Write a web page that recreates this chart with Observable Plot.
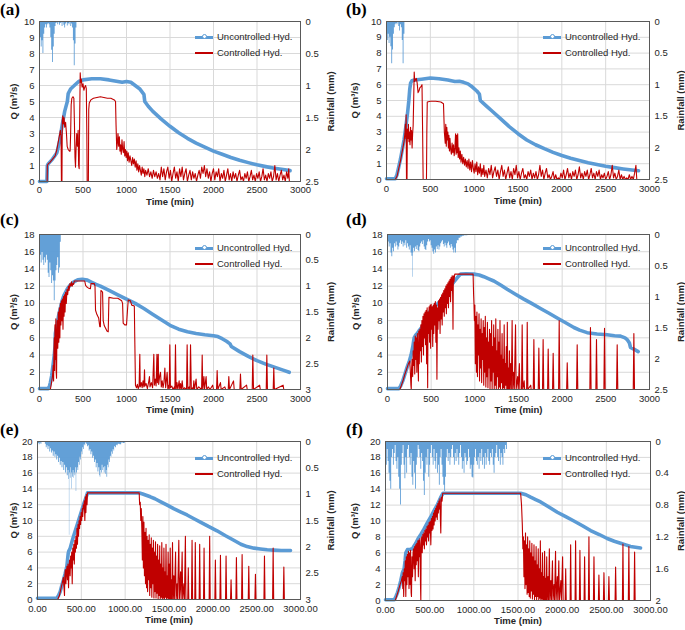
<!DOCTYPE html>
<html><head><meta charset="utf-8">
<script src="https://cdn.jsdelivr.net/npm/d3@7"></script>
<script src="https://cdn.jsdelivr.net/npm/@observablehq/plot@0.6"></script>
<style>
body{margin:0;background:#fff;}
#wrap{position:relative;width:685px;height:630px;overflow:hidden;font-family:"Liberation Sans",sans-serif;color:#262626;}
.panel{position:absolute;}
.tag{position:absolute;font-family:"Liberation Serif",serif;font-weight:bold;font-size:17px;line-height:19px;color:#000;}
.legend{position:absolute;font-size:9.5px;line-height:16px;white-space:nowrap;color:#262626;}
.legend .row{display:flex;align-items:center;height:16px;}
.sw{position:relative;display:inline-block;width:18px;margin-right:4px;}
.sw.blue{height:3px;background:#5B9BD5;}
.sw.blue::after{content:"";position:absolute;left:7px;top:-1.5px;width:3px;height:3px;border:1px solid #5B9BD5;border-radius:50%;background:#fff;}
.sw.red{height:1.5px;background:#C00000;}
</style></head><body><div id="wrap"></div>
<script>
// ---------- shared ticks ----------
const xTicks = [0, 500, 1000, 1500, 2000, 2500, 3000];
const qTicks10 = [0,1,2,3,4,5,6,7,8,9,10];
const qTicks18 = [0,2,4,6,8,10,12,14,16,18];
const qTicks20 = [0,2,4,6,8,10,12,14,16,18,20];
const rTicks25 = [0, 0.5, 1, 1.5, 2, 2.5];
const rTicks3 = [0, 0.5, 1, 1.5, 2, 2.5, 3];
const rTicks2 = [0, 0.4, 0.8, 1.2, 1.6, 2];

// ---------- panel (a) ----------
const uncA = [[0,0],[85,0],[90,1.0],[100,1.1],[150,1.4],[200,1.8],[230,2.5],[260,3.5],[290,4.4],[320,5.0],[330,5.5],[360,5.8],[400,6.0],[450,6.25],[500,6.35],[600,6.42],[700,6.42],[800,6.35],[900,6.25],[950,6.2],[1000,6.25],[1050,6.2],[1100,6.0],[1150,5.8],[1200,5.45],[1210,5.0],[1250,4.7],[1300,4.4],[1400,3.9],[1500,3.45],[1600,3.05],[1700,2.7],[1800,2.4],[1900,2.15],[2000,1.9],[2100,1.7],[2200,1.5],[2300,1.33],[2400,1.18],[2500,1.04],[2600,0.93],[2700,0.83],[2800,0.75],[2880,0.68]];
const ctrlA = [[0,0],[88,0],[90,1.0],[100,1.1],[120,1.2],[150,1.4],[180,1.6],[200,2.0],[220,2.6],[240,3.2],[248,2.8],[252,0],[258,0],[262,3.8],[268,4.1],[275,3.6],[282,4.0],[290,3.4],[300,3.7],[310,3.0],[318,2.2],[330,2.0],[345,1.9],[352,1.9],[358,3.0],[364,4.8],[372,5.2],[385,5.3],[395,5.2],[402,3.5],[408,1.5],[414,0.9],[420,2.0],[428,3.0],[436,2.2],[444,3.2],[450,1.0],[456,0.8],[462,4.0],[468,6.8],[474,6.2],[480,6.4],[490,5.9],[500,6.1],[510,5.7],[520,5.9],[530,6.0],[538,5.8],[544,3.0],[548,0],[562,0],[566,4.5],[572,4.9],[590,5.1],[620,5.2],[660,5.25],[700,5.3],[740,5.25],[780,5.2],[820,5.2],[860,5.1],[874,5.0],[880,3.5],[888,2.0],[895,2.4],[902,3.0],[910,2.2],[918,2.8],[925,1.9],[932,2.3],[940,1.7],[948,2.6],[956,2.0],[964,1.8],[972,2.5],[980,1.6],[988,2.0],[996,1.5],[1004,1.9],[1012,1.3],[1020,1.8],[1030,1.2],[1040,1.6],[1050,1.3],[1060,1.0],[1070,1.5],[1080,1.1],[1090,1.4],[1100,0.9],[1110,1.3],[1120,0.7],[1130,1.1],[1140,0.6],[1150,1.0],[1160,0.7],[1170,0.4],[1180,0.9],[1190,0.5],[1200,0.8],[1210,0.3],[1220,0.7],[1235,0.4],[1250,0.8],[1265,0.3],[1280,0.6],[1295,0.2],[1310,0.7],[1325,0.3],[1340,0.6],[1355,0.2],[1370,0.5],[1385,0.1],[1400,0.9],[1415,0.3],[1430,0.8],[1445,0.1],[1460,0.6],[1475,0.9],[1490,0.2],[1505,0.7],[1520,0],[1535,0.5],[1550,0.9],[1565,0.2],[1580,0.6],[1595,0],[1610,0.8],[1625,0.3],[1640,0.9],[1655,0.1],[1670,0.5],[1685,0.8],[1700,0],[1715,0.4],[1730,0.7],[1745,0.1],[1760,0.6],[1775,0.2],[1790,0.5],[1805,0],[1820,0.4],[1835,0.7],[1850,0.2],[1865,0.9],[1880,0.5],[1895,1.0],[1910,0.3],[1925,0.8],[1940,0.2],[1955,0.6],[1970,0],[1985,0.5],[2000,0.8],[2015,0.1],[2030,0.6],[2045,0.3],[2060,0.8],[2075,0],[2090,0.5],[2105,0.2],[2120,0.7],[2135,0],[2150,0.4],[2165,0.8],[2180,0.1],[2195,0.5],[2210,0],[2225,0.6],[2240,0.2],[2255,0.5],[2270,0],[2285,0.4],[2300,0.7],[2315,0.1],[2330,0.3],[2345,0],[2360,0.5],[2375,0.2],[2390,0.6],[2405,0],[2420,0.3],[2435,0.7],[2450,0.1],[2465,0.4],[2480,0],[2495,0.5],[2510,0.2],[2525,0.6],[2540,0],[2555,0.3],[2570,0.8],[2585,0.1],[2600,0.4],[2615,0],[2630,0.5],[2645,0.2],[2660,0.6],[2675,0],[2690,0.3],[2705,1.0],[2720,0.1],[2735,0.5],[2750,0],[2765,0.4],[2780,0.7],[2795,0.1],[2810,0.4],[2825,0],[2840,0.6],[2855,0.2],[2865,0.8],[2872,0]];
const rainA = [[0,0.15],[10,0.25],[20,0.4],[30,0.3],[40,0.5],[50,0.2],[60,0.1],[70,0.05],[80,0.1],[90,0.05],[100,0.03],[110,0.05],[120,0.1],[130,0.25],[140,0.45],[150,0.64],[160,0.4],[170,0.2],[180,0.08],[190,0.03],[200,0.02],[210,0.05],[220,0.02],[230,0.06],[240,0.03],[250,0.02],[260,0.08],[270,0.02],[280,0.06],[290,0.1],[300,0.04],[310,0.02],[320,0.07],[330,0.03],[340,0.05],[350,0.02],[360,0.08],[370,0.04],[380,0.1],[390,0.3],[400,0.69],[410,0.35],[420,0.1],[430,0]];

// ---------- panel (b) ----------
const uncB = [[0,0.05],[100,0.05],[120,0.3],[140,0.8],[160,1.3],[180,1.9],[200,2.5],[220,3.3],[240,4.2],[255,5.0],[265,5.7],[275,6.1],[290,6.25],[320,6.3],[400,6.35],[500,6.42],[600,6.38],[700,6.3],[780,6.2],[830,6.22],[880,6.15],[930,6.05],[980,5.85],[1030,5.6],[1060,5.4],[1070,5.0],[1100,4.85],[1150,4.6],[1200,4.35],[1300,3.85],[1400,3.35],[1500,2.9],[1600,2.5],[1700,2.2],[1800,1.95],[1900,1.72],[2000,1.52],[2100,1.35],[2200,1.2],[2300,1.06],[2400,0.95],[2500,0.84],[2600,0.75],[2700,0.67],[2800,0.6],[2875,0.55]];
const ctrlB = [[0,0],[100,0],[120,0.2],[140,0.7],[160,1.2],[180,1.8],[200,2.4],[210,2.9],[215,3.5],[220,2.6],[224,4.1],[228,0],[234,0],[238,3.2],[244,2.6],[250,3.5],[256,2.4],[262,3.0],[268,2.2],[274,3.3],[280,2.5],[286,3.1],[292,2.0],[298,2.9],[304,3.4],[310,5.0],[316,6.8],[322,6.2],[330,6.3],[340,6.4],[350,6.1],[360,5.5],[370,5.6],[380,5.8],[395,5.9],[405,6.0],[412,3.0],[418,0],[456,0],[460,3.0],[465,4.9],[500,4.95],[560,4.95],[620,4.9],[650,4.8],[660,3.0],[670,2.3],[676,3.5],[682,2.1],[688,3.3],[694,2.5],[700,3.0],[706,2.0],[712,2.8],[718,1.8],[724,2.6],[732,1.9],[740,1.6],[748,2.3],[756,1.7],[764,2.2],[772,1.5],[780,2.0],[788,2.9],[794,1.6],[800,2.8],[806,1.7],[812,2.9],[818,1.4],[826,2.0],[834,1.3],[842,1.8],[850,1.1],[860,1.6],[870,1.0],[880,1.4],[890,0.9],[900,1.3],[910,0.8],[920,1.2],[930,0.7],[940,1.3],[950,0.6],[960,1.1],[970,0.5],[980,1.2],[990,0.7],[1000,0.4],[1010,1.0],[1020,0.5],[1030,1.1],[1040,0.3],[1050,0.8],[1060,0.4],[1070,1.0],[1080,0.2],[1090,0.7],[1100,0.3],[1110,0.9],[1120,0.2],[1135,0.6],[1150,0.1],[1165,0.7],[1180,0.3],[1195,0.9],[1210,0.1],[1225,0.5],[1240,0.8],[1255,0.2],[1270,0.6],[1285,0],[1300,0.5],[1315,0.9],[1330,0.2],[1345,0.6],[1360,0],[1375,0.4],[1390,0.8],[1405,0.1],[1420,0.5],[1435,0],[1450,0.7],[1465,0.3],[1480,0.9],[1495,0.1],[1510,0.5],[1525,0],[1540,0.4],[1555,0.7],[1570,0.1],[1585,0.3],[1600,0],[1615,0.5],[1630,0.2],[1645,0.6],[1660,0],[1675,0.4],[1690,0.1],[1705,0.5],[1720,0],[1735,0.3],[1750,0.9],[1765,0.2],[1780,0.6],[1795,0],[1810,0.4],[1825,0.7],[1840,0.1],[1855,0.3],[1870,0],[1885,0.2],[1900,0.5],[1915,0],[1930,0.3],[1945,0],[1960,0.1],[1975,0],[1990,0.4],[2005,0.1],[2020,0.6],[2035,0],[2050,0.3],[2065,0.7],[2080,0.1],[2095,0.4],[2110,0],[2125,0.5],[2140,0.2],[2155,0.6],[2170,0],[2185,0.3],[2200,0.8],[2215,0.1],[2230,0.4],[2245,0],[2260,0.5],[2275,0.2],[2290,0.6],[2305,0],[2320,0.3],[2335,0.7],[2350,0.1],[2365,0.4],[2380,0],[2395,0.5],[2410,0.2],[2425,0.6],[2440,0],[2455,0.3],[2470,0.1],[2485,0.4],[2500,0],[2515,0.2],[2530,0.5],[2545,0],[2560,0.3],[2575,0.9],[2590,0.1],[2605,0.4],[2620,0],[2635,0.2],[2650,0.6],[2665,0],[2680,0.3],[2695,0],[2710,0.2],[2725,0],[2740,0.1],[2755,0],[2770,0.3],[2785,0],[2800,0.2],[2815,0],[2830,0.4],[2845,0.9],[2855,0],[2870,0]];
const rainB = [[0,0.1],[10,0.3],[20,0.2],[30,0.35],[40,0.25],[50,0.4],[60,0.67],[70,0.45],[80,0.2],[90,0.1],[100,0.05],[110,0.03],[120,0.05],[130,0.02],[140,0.08],[150,0.15],[160,0.05],[170,0.1],[180,0.3],[190,0.67],[200,0.2],[210,0]];

// ---------- panel (c) ----------
const uncC = [[0,0.1],[100,0.1],[115,0.4],[125,0.8],[140,1.6],[155,2.8],[170,4.0],[178,5.0],[182,6.5],[190,7.0],[203,7.6],[220,8.6],[241,9.5],[260,10.3],[280,10.9],[300,11.3],[320,11.7],[350,12.1],[395,12.5],[440,12.75],[490,12.8],[550,12.7],[600,12.45],[650,12.2],[700,12.0],[800,11.5],[900,11.0],[1000,10.5],[1100,10.0],[1200,9.4],[1300,8.75],[1400,8.1],[1500,7.45],[1600,7.0],[1700,6.7],[1800,6.5],[1900,6.35],[2000,6.25],[2050,6.15],[2100,5.9],[2150,5.6],[2190,5.3],[2205,5.0],[2300,4.4],[2400,3.85],[2500,3.35],[2600,2.95],[2700,2.6],[2800,2.25],[2870,2.0]];
const ctrlC = [[0,0],[125,0],[140,0.9],[150,1.6],[158,2.8],[162,1.0],[166,4.5],[170,6.0],[174,2.2],[178,7.5],[184,3.5],[188,8.2],[192,2.0],[196,1.3],[200,6.5],[205,8.0],[210,4.8],[216,9.0],[222,5.5],[228,9.5],[234,6.0],[240,10.0],[246,7.5],[252,10.3],[258,8.0],[264,10.5],[270,7.0],[276,10.8],[282,8.5],[288,11.0],[294,9.0],[300,11.3],[308,10.0],[316,11.6],[324,11.0],[332,12.0],[340,11.5],[350,12.3],[360,12.0],[368,12.5],[376,12.0],[384,12.3],[392,12.2],[400,12.6],[460,12.6],[520,12.6],[530,12.1],[545,11.9],[560,11.8],[585,11.7],[592,12.3],[630,12.3],[638,12.0],[644,9.2],[660,8.7],[680,8.3],[693,7.3],[700,7.3],[706,11.5],[725,11.3],[732,8.0],[745,7.4],[760,7.1],[775,6.8],[790,6.7],[798,10.7],[850,10.6],[900,10.6],[945,10.3],[955,10.0],[962,7.7],[980,7.5],[1000,7.5],[1010,9.0],[1020,10.4],[1045,10.3],[1060,9.8],[1090,9.7],[1095,6.0],[1103,0.5],[1115,0.2],[1125,0.6],[1135,0.1],[1145,0.4],[1153,4.1],[1158,0.3],[1170,0.8],[1180,0.2],[1190,1.0],[1200,0.3],[1207,2.3],[1212,0.4],[1225,0.7],[1240,0.1],[1255,0.9],[1264,1.5],[1270,0.3],[1285,0.8],[1300,0.2],[1314,4.1],[1320,0.5],[1330,1.2],[1340,0.4],[1350,4.1],[1355,0.8],[1365,4.1],[1370,0.6],[1380,1.5],[1391,2.0],[1400,0.3],[1410,1.0],[1420,0.2],[1430,0.8],[1441,2.5],[1450,0.2],[1458,1.0],[1467,2.0],[1475,0.1],[1485,0.5],[1491,0],[1498,5.2],[1505,0.2],[1520,0.4],[1535,0],[1550,0.3],[1556,0],[1563,5.2],[1570,0],[1580,0.8],[1590,0],[1605,1.0],[1612,0],[1621,0.7],[1630,0],[1640,1.0],[1650,0],[1665,0.2],[1690,0],[1697,5.2],[1705,0],[1720,0.3],[1729,0],[1736,5.2],[1745,0],[1760,0.2],[1767,0],[1774,1.0],[1782,0],[1800,1.2],[1808,0],[1830,0.3],[1863,0],[1870,4.0],[1877,0],[1890,1.5],[1897,0],[1915,1.5],[1922,0],[1940,0.3],[1960,0],[1990,0.5],[2000,0],[2035,0],[2042,2.2],[2050,0],[2080,0.8],[2088,0],[2130,0.3],[2140,0],[2169,0],[2176,1.5],[2184,0],[2230,1.0],[2238,0],[2303,0],[2310,1.8],[2318,0],[2380,0.5],[2388,0],[2445,0],[2452,4.0],[2460,0],[2530,0.5],[2538,0],[2606,0],[2613,4.0],[2620,0],[2686,0],[2693,2.5],[2700,0],[2800,0.5],[2808,0],[2880,0]];
const rainC = [[0,0.25],[10,0.4],[20,0.55],[30,0.35],[40,0.5],[50,0.6],[60,0.45],[70,0.55],[80,0.4],[90,0.5],[100,0.75],[110,0.83],[120,0.55],[130,0.7],[140,0.95],[150,0.8],[160,0.9],[170,1.28],[180,0.9],[190,0.7],[200,0.6],[210,0.45],[220,0.75],[230,0.65],[240,0.15],[250,0]];

// ---------- panel (d) ----------
const uncD = [[0,0.1],[130,0.1],[150,0.4],[175,1.0],[200,1.8],[225,2.6],[250,3.3],[270,4.0],[290,5.0],[305,6.0],[321,6.3],[340,6.5],[360,6.8],[390,7.2],[416,7.6],[445,8.3],[473,8.9],[500,9.2],[530,9.5],[570,9.9],[607,10.3],[645,10.8],[683,11.3],[720,11.9],[760,12.5],[800,13.0],[836,13.4],[900,13.45],[989,13.4],[1050,13.3],[1103,13.1],[1160,12.85],[1218,12.6],[1300,12.1],[1370,11.65],[1460,11.1],[1561,10.5],[1650,10.0],[1752,9.4],[1850,8.85],[1943,8.3],[2040,7.75],[2134,7.2],[2200,6.9],[2286,6.6],[2400,6.45],[2515,6.35],[2600,6.25],[2668,6.2],[2720,6.0],[2744,5.8],[2770,5.4],[2782,4.9],[2820,4.7],[2870,4.4]];
const ctrlD = [[0,0],[140,0],[160,0.5],[180,1.1],[200,1.8],[220,2.4],[240,3.0],[255,3.3],[262,2.0],[268,0.5],[272,0],[276,2.5],[282,3.5],[288,1.5],[294,4.5],[300,2.8],[306,5.5],[312,1.8],[318,6.2],[324,3.5],[330,6.0],[336,2.0],[342,6.5],[348,4.0],[354,1.0],[358,6.8],[364,3.0],[370,7.0],[376,4.5],[382,7.5],[388,3.2],[394,8.0],[400,5.0],[406,8.5],[412,4.0],[418,8.8],[424,6.0],[430,9.0],[436,5.2],[442,9.2],[448,3.0],[454,9.5],[460,0.2],[464,9.0],[470,6.5],[476,9.6],[482,5.5],[488,9.8],[494,4.8],[500,9.9],[506,7.0],[512,9.6],[518,5.0],[524,9.8],[530,6.5],[536,10.0],[542,7.5],[548,10.2],[554,5.5],[560,9.8],[566,1.2],[572,9.5],[578,7.0],[584,10.3],[590,8.0],[596,10.5],[602,6.5],[608,10.7],[614,8.2],[620,11.0],[626,7.5],[632,11.2],[638,9.0],[644,11.5],[650,8.5],[656,11.7],[662,9.5],[668,12.0],[674,8.8],[680,12.2],[686,10.0],[692,12.4],[698,9.5],[704,12.6],[710,10.8],[716,12.8],[722,10.2],[728,13.0],[734,11.5],[740,13.2],[746,11.0],[750,7.0],[754,13.2],[760,12.5],[770,13.4],[980,13.4],[986,11.0],[990,10.0],[995,8.0],[1000,9.8],[1006,3.0],[1012,8.5],[1018,2.0],[1024,9.0],[1030,1.5],[1036,7.5],[1042,4.0],[1048,8.8],[1054,1.0],[1060,7.0],[1066,2.5],[1072,8.2],[1078,0.8],[1084,6.5],[1090,3.5],[1096,8.0],[1102,0.5],[1108,7.2],[1114,2.0],[1120,8.5],[1126,0.3],[1132,6.0],[1138,1.5],[1144,7.8],[1150,0.2],[1156,5.5],[1162,2.5],[1168,7.0],[1174,0],[1180,6.5],[1186,1.0],[1192,8.0],[1198,0],[1204,5.0],[1210,2.0],[1216,7.5],[1222,0],[1228,6.0],[1234,0.5],[1240,8.2],[1246,0],[1252,4.5],[1258,1.5],[1264,7.0],[1270,0],[1276,5.5],[1282,0.3],[1288,8.0],[1294,0],[1300,4.0],[1306,0.8],[1312,6.5],[1318,0],[1324,3.5],[1330,0.2],[1336,7.5],[1342,0],[1348,3.0],[1354,0.5],[1360,5.0],[1366,0],[1372,7.8],[1378,0],[1384,2.5],[1390,0],[1396,4.5],[1402,0],[1410,3.0],[1418,0],[1427,8.0],[1434,0],[1445,2.0],[1452,0],[1466,7.5],[1473,0],[1490,1.5],[1497,0],[1510,3.0],[1516,0],[1535,0],[1542,7.5],[1549,0],[1565,1.0],[1570,0],[1593,0],[1600,7.8],[1607,0],[1640,0.5],[1645,0],[1669,0],[1676,5.8],[1683,0],[1726,0],[1733,4.8],[1740,0],[1775,0],[1782,5.8],[1789,0],[1833,0],[1840,4.7],[1847,0],[1890,0],[1897,4.2],[1904,0],[1959,0],[1966,8.0],[1973,0],[2051,0],[2058,3.1],[2065,0],[2165,0],[2172,5.2],[2179,0],[2317,0],[2324,7.2],[2331,0],[2386,0],[2393,5.8],[2400,0],[2478,0],[2485,7.1],[2492,0],[2623,0],[2630,5.2],[2637,0],[2814,0],[2821,6.5],[2828,0],[2880,0]];
const rainD = [[0,0.05],[10,0.12],[20,0.2],[30,0.15],[40,0.3],[50,0.36],[60,0.22],[70,0.28],[80,0.15],[90,0.2],[100,0.12],[110,0.18],[120,0.25],[130,0.2],[140,0.14],[150,0.1],[160,0.16],[170,0.12],[180,0.2],[190,0.14],[200,0.18],[210,0.1],[220,0.22],[230,0.15],[240,0.2],[250,0.25],[260,0.18],[270,0.3],[280,0.35],[290,0.69],[295,0.3],[300,0.22],[310,0.28],[320,0.2],[330,0.24],[340,0.18],[350,0.26],[360,0.28],[370,0.2],[380,0.15],[390,0.12],[400,0.16],[410,0.1],[420,0.2],[430,0.24],[440,0.26],[450,0.18],[460,0.12],[470,0.08],[480,0.12],[490,0.1],[500,0.18],[510,0.22],[520,0.28],[530,0.32],[540,0.25],[550,0.3],[560,0.2],[570,0.24],[580,0.18],[590,0.25],[600,0.2],[610,0.15],[620,0.12],[630,0.1],[640,0.16],[650,0.2],[660,0.14],[670,0.18],[680,0.22],[690,0.15],[700,0.12],[710,0.18],[720,0.22],[730,0.16],[740,0.2],[750,0.25],[760,0.3],[770,0.22],[780,0.3],[790,0.15],[800,0.1],[820,0.06],[840,0.04],[860,0.03],[880,0.02],[900,0.02],[920,0]];

// ---------- panel (e) ----------
const uncE = [[0,0.15],[220,0.15],[240,0.5],[259,1.0],[278,1.8],[297,2.5],[316,3.3],[335,4.2],[350,5.8],[356,6.1],[373,6.5],[390,7.2],[411,8.0],[440,9.0],[468,10.0],[497,11.0],[525,12.0],[550,12.8],[571,13.5],[800,13.5],[1000,13.5],[1154,13.5],[1200,13.35],[1287,13.0],[1340,12.75],[1401,12.4],[1480,11.95],[1553,11.5],[1630,11.1],[1706,10.7],[1780,10.25],[1858,9.8],[1950,9.25],[2048,8.7],[2140,8.1],[2239,7.5],[2320,7.0],[2391,6.7],[2470,6.5],[2543,6.4],[2620,6.3],[2695,6.25],[2780,6.2],[2886,6.2]];
const ctrlE = [[0,0],[230,0],[250,0.5],[270,1.5],[285,2.2],[295,2.8],[302,1.5],[308,0.5],[312,3.0],[318,3.8],[324,2.0],[330,3.5],[336,4.2],[342,2.5],[348,4.5],[354,1.5],[360,4.0],[366,5.0],[372,3.0],[378,5.5],[384,4.0],[390,6.0],[396,2.0],[402,6.5],[408,5.0],[414,7.0],[420,4.5],[426,7.5],[432,6.0],[438,8.0],[444,6.5],[450,9.0],[456,7.0],[462,9.5],[468,8.0],[474,10.0],[480,9.0],[486,10.5],[492,9.5],[498,11.0],[504,10.0],[510,11.5],[516,10.5],[522,12.0],[528,11.5],[534,12.5],[540,10.0],[546,13.0],[552,11.0],[558,13.3],[565,12.0],[570,13.5],[1160,13.5],[1165,12.0],[1172,12.3],[1178,10.0],[1184,11.5],[1190,9.0],[1196,5.0],[1202,10.5],[1208,4.0],[1214,9.8],[1220,3.0],[1226,8.5],[1232,2.0],[1238,9.0],[1244,1.5],[1250,8.0],[1256,1.0],[1262,7.5],[1268,2.5],[1274,8.2],[1280,0.5],[1286,7.0],[1292,1.5],[1298,7.8],[1304,0.3],[1310,6.5],[1316,2.0],[1322,7.5],[1328,0.2],[1334,6.0],[1340,1.0],[1346,7.3],[1352,0.2],[1358,5.5],[1364,0.8],[1370,7.0],[1376,0.1],[1382,5.0],[1388,0.5],[1394,6.8],[1400,0.1],[1406,4.5],[1412,0.3],[1418,7.2],[1424,0.1],[1430,4.0],[1436,0.2],[1442,6.5],[1448,0],[1454,3.5],[1460,0.3],[1466,7.0],[1472,0],[1478,3.0],[1484,0.2],[1490,6.0],[1496,0],[1502,4.5],[1508,0],[1514,6.5],[1520,0],[1526,2.5],[1532,0],[1540,7.2],[1546,0],[1555,3.0],[1561,0],[1575,6.0],[1581,0],[1592,2.0],[1598,0],[1612,7.5],[1618,0],[1632,3.5],[1638,0],[1650,6.0],[1656,0],[1670,2.0],[1676,0],[1687,8.0],[1693,0],[1714,0],[1720,4.0],[1726,0],[1757,0],[1763,7.5],[1769,0],[1794,0],[1800,7.2],[1806,0],[1844,0],[1850,7.0],[1856,0],[1894,0],[1900,6.5],[1906,0],[1958,0],[1964,8.0],[1970,0],[2023,0],[2029,5.0],[2035,0],[2081,0],[2087,5.6],[2093,0],[2145,0],[2151,5.5],[2157,0],[2202,0],[2208,2.5],[2214,0],[2263,0],[2269,5.3],[2275,0],[2328,0],[2334,5.7],[2340,0],[2404,0],[2410,4.2],[2416,0],[2480,0],[2486,3.2],[2492,0],[2583,0],[2589,5.5],[2595,0],[2682,0],[2688,6.5],[2694,0],[2804,0],[2810,4.1],[2816,0],[2880,0]];
const rainE = [[0,0.05],[10,0.04],[20,0.06],[30,0.03],[40,0.05],[50,0],[90,0.05],[100,0.12],[110,0.08],[120,0.15],[130,0.1],[140,0.2],[150,0.14],[160,0.22],[170,0.18],[180,0.28],[190,0.2],[200,0.3],[210,0.25],[220,0.35],[230,0.28],[240,0.4],[250,0.32],[260,0.45],[270,0.38],[280,0.5],[290,0.4],[300,0.55],[310,0.45],[320,0.6],[330,0.5],[340,0.65],[350,0.55],[358,0.72],[364,1.78],[368,0.6],[375,0.7],[382,0.5],[388,0.9],[393,0.6],[400,0.68],[408,0.55],[415,0.7],[420,0.6],[428,0.65],[435,0.5],[442,0.95],[447,0.6],[455,0.5],[462,0.55],[470,0.4],[478,0.45],[486,0.3],[494,0.35],[502,0.2],[510,0.25],[518,0.12],[526,0.15],[534,0.06],[542,0.08],[550,0.03],[560,0.05],[570,0.1],[580,0.08],[590,0.18],[600,0.15],[610,0.25],[620,0.2],[630,0.32],[640,0.28],[650,0.4],[660,0.35],[670,0.5],[680,0.42],[690,0.58],[700,0.5],[710,0.65],[716,0.68],[722,0.55],[730,0.6],[738,0.45],[746,0.55],[754,0.5],[762,0.6],[770,0.48],[778,0.62],[786,0.55],[792,0.68],[800,0.45],[808,0.5],[816,0.35],[824,0.4],[832,0.28],[840,0.3],[848,0.2],[856,0.24],[864,0.15],[872,0.18],[880,0.1],[890,0.12],[900,0.07],[910,0.08],[920,0.05],[940,0.06],[960,0.03],[980,0.04],[1000,0.02],[1020,0.02],[1030,0]];

// ---------- panel (f) ----------
const uncF = [[0,0.1],[100,0.1],[118,0.5],[136,1.0],[155,1.7],[173,2.5],[192,3.5],[211,4.0],[222,5.0],[230,6.0],[249,6.4],[280,6.45],[305,6.5],[325,6.9],[343,7.2],[370,7.8],[400,8.3],[437,9.0],[475,9.8],[512,10.5],[550,11.3],[590,12.1],[626,13.0],[652,13.5],[1000,13.5],[1300,13.5],[1530,13.5],[1590,13.3],[1643,13.0],[1700,12.7],[1756,12.4],[1850,11.75],[1945,11.1],[2040,10.55],[2133,10.0],[2230,9.4],[2322,8.8],[2420,8.3],[2510,7.8],[2590,7.45],[2661,7.2],[2720,7.0],[2774,6.8],[2830,6.7],[2887,6.6]];
const ctrlF = [[0,0],[110,0],[125,0.5],[145,1.2],[165,2.0],[180,2.5],[190,3.0],[196,1.5],[200,3.5],[206,0.5],[212,4.0],[218,2.5],[224,5.0],[230,0.5],[236,5.5],[242,2.0],[248,5.8],[254,3.0],[260,6.2],[266,1.5],[272,6.0],[278,2.0],[284,6.3],[290,1.0],[294,0.5],[300,5.5],[306,3.0],[312,6.0],[317,6.5],[324,4.0],[330,6.8],[336,2.5],[342,7.0],[348,4.5],[354,7.2],[360,5.0],[366,7.5],[372,3.0],[378,7.6],[384,5.5],[390,7.8],[396,2.0],[400,0],[404,7.0],[410,8.0],[416,6.0],[422,8.3],[428,7.0],[434,8.5],[440,6.5],[446,8.8],[452,7.5],[458,9.0],[464,7.0],[470,9.3],[476,8.0],[482,9.5],[488,7.5],[494,9.8],[500,8.5],[506,10.0],[513,7.0],[520,10.3],[526,8.8],[532,10.6],[538,9.0],[544,11.0],[550,9.5],[556,11.3],[562,10.0],[568,11.6],[574,10.5],[580,11.9],[586,10.2],[592,12.2],[598,11.0],[604,12.5],[610,11.5],[616,12.8],[622,10.0],[626,8.5],[632,13.0],[640,12.5],[648,13.5],[1530,13.5],[1540,12.0],[1549,9.5],[1555,6.5],[1561,8.0],[1567,3.0],[1573,7.5],[1579,1.5],[1585,8.5],[1591,2.0],[1597,7.0],[1603,0.8],[1609,8.0],[1615,1.0],[1621,6.5],[1627,0.5],[1633,7.5],[1639,0.3],[1645,6.0],[1651,1.2],[1657,7.2],[1663,0.2],[1669,5.5],[1675,0.8],[1681,7.0],[1687,0.1],[1693,5.0],[1699,0.5],[1705,6.8],[1711,0],[1717,4.5],[1723,0.5],[1729,6.5],[1735,0],[1741,4.0],[1747,0.3],[1753,7.5],[1759,0],[1765,3.5],[1771,0.2],[1777,6.0],[1783,0],[1789,3.0],[1795,0.1],[1801,6.2],[1807,0],[1813,2.8],[1819,0],[1825,5.5],[1831,0],[1840,3.0],[1846,0],[1855,6.5],[1861,0],[1872,2.5],[1878,0],[1890,5.0],[1896,0],[1908,2.0],[1914,0],[1925,6.2],[1931,0],[1945,3.0],[1951,0],[1962,5.0],[1968,0],[1985,2.5],[1991,0],[2005,5.5],[2011,0],[2034,0],[2040,4.0],[2046,0],[2090,0],[2096,7.0],[2102,0],[2146,0],[2152,7.5],[2158,0],[2195,0],[2201,6.3],[2207,0],[2248,0],[2254,5.5],[2260,0],[2297,0],[2303,8.0],[2309,0],[2354,0],[2360,5.5],[2366,0],[2410,0],[2416,3.2],[2422,0],[2467,0],[2473,3.5],[2479,0],[2523,0],[2529,3.0],[2535,0],[2599,0],[2605,4.2],[2611,0],[2682,0],[2688,7.1],[2694,0],[2749,0],[2755,6.8],[2761,0],[2814,0],[2820,6.1],[2826,0],[2880,0]];
const rainF = [[0,0.15],[10,0.3],[20,0.1],[30,0.25],[40,0.4],[50,0.5],[60,0.6],[70,0.2],[80,0.1],[90,0.3],[100,0.15],[110,0.05],[120,0.25],[130,0.35],[140,0.2],[150,0.45],[160,0.6],[170,0.8],[180,0.3],[190,0.15],[200,0.05],[210,0.3],[220,0.47],[230,0.2],[240,0.4],[250,0.1],[260,0.05],[270,0.2],[280,0.3],[290,0.15],[300,0.45],[310,0.55],[320,0.25],[330,0.4],[340,0.6],[350,0.3],[360,0.2],[370,0.05],[380,0.1],[390,0.2],[400,0.35],[410,0.15],[420,0.25],[430,0.5],[440,0.68],[450,0.4],[460,0.2],[470,0.3],[480,0.1],[490,0.45],[500,0.3],[510,0.15],[520,0.05],[530,0.2],[540,0.3],[550,0.1],[560,0.25],[570,0.35],[580,0.15],[590,0.4],[600,0.3],[610,0.55],[620,0.2],[630,0.1],[640,0.3],[650,0.45],[660,0.55],[670,0.63],[680,0.45],[690,0.2],[700,0.1],[710,0.25],[720,0.15],[730,0.3],[740,0.2],[750,0.1],[760,0.05],[770,0.2],[780,0.3],[790,0.15],[800,0.25],[810,0.1],[820,0.2],[830,0.3],[840,0.15],[850,0.05],[860,0.2],[870,0.35],[880,0.25],[890,0.4],[900,0.15],[910,0.2],[920,0.3],[930,0.25],[940,0.1],[950,0.2],[960,0.35],[970,0.3],[980,0.45],[990,0.46],[1000,0.3],[1010,0.2],[1020,0.1],[1030,0.25],[1040,0.3],[1050,0.2],[1060,0.35],[1070,0.15],[1080,0.25],[1090,0.1],[1100,0.3],[1110,0.2],[1120,0.35],[1130,0.15],[1140,0.3],[1150,0.2],[1160,0.1],[1170,0.25],[1180,0.3],[1190,0.15],[1200,0.2],[1210,0.1],[1220,0.3],[1230,0.4],[1240,0.2],[1250,0.15],[1260,0.05],[1270,0.2],[1280,0.25],[1290,0.1],[1300,0.3],[1310,0.15],[1320,0.2],[1330,0.3],[1340,0.1],[1350,0.15],[1360,0.05],[1370,0.1],[1380,0]];

// ---------- panel layout ----------
const panels = [
  {tag:"(a)", left:0,   top:0,   mL:39, mR:42, mT:21, mB:29, qMax:10, qTicks:qTicks10, rMax:2.5, rTicks:rTicks25, dec:false, unc:uncA, ctrl:ctrlA, rain:rainA, qdx:-26, rdx:30, tdy:23.5, tp:5, leg:[195,29]},
  {tag:"(b)", left:342, top:0,   mL:44, mR:35, mT:21, mB:31, qMax:10, qTicks:qTicks10, rMax:2.5, rTicks:rTicks25, dec:false, unc:uncB, ctrl:ctrlB, rain:rainB, qdx:-32, rdx:31, tdy:24, tp:6, leg:[543,29]},
  {tag:"(c)", left:0,   top:210, mL:39, mR:42, mT:24, mB:31, qMax:18, qTicks:qTicks18, rMax:3,   rTicks:rTicks3,  dec:false, unc:uncC, ctrl:ctrlC, rain:rainC, qdx:-26, rdx:30, tdy:23.5, tp:6, leg:[195,240]},
  {tag:"(d)", left:342, top:210, mL:45, mR:35, mT:24, mB:31, qMax:18, qTicks:qTicks18, rMax:2.5, rTicks:rTicks25, dec:false, unc:uncD, ctrl:ctrlD, rain:rainD, qdx:-32, rdx:31, tdy:23.5, tp:6, leg:[543,240]},
  {tag:"(e)", left:0,   top:420, mL:37, mR:42, mT:21, mB:31, qMax:20, qTicks:qTicks20, rMax:3,   rTicks:rTicks3,  dec:true,  unc:uncE, ctrl:ctrlE, rain:rainE, qdx:-24, rdx:30, tdy:23.5, tp:6, leg:[195,450]},
  {tag:"(f)", left:342, top:420, mL:43, mR:34, mT:21, mB:30, qMax:20, qTicks:qTicks20, rMax:2,   rTicks:rTicks2,  dec:true,  unc:uncF, ctrl:ctrlF, rain:rainF, qdx:-31, rdx:30, tdy:23.5, tp:6, leg:[543,450]}
];

const wrap = document.getElementById("wrap");
const BLUE = "#5B9BD5", RED = "#C00000", GRID = "#d9d9d9", AX = "#595959", TXT = "#262626";
const FONT = "'Liberation Sans',sans-serif";

for (const p of panels) {
  const toQ = r => p.qMax * (1 - r / p.rMax);
  const rLab = new Map(p.rTicks.map(r => [toQ(r), String(r)]));
  const xFmt = p.dec ? d3.format(".2f") : d3.format("d");
  const unc = p.unc.map(([t, q]) => ({t, q}));
  const ctrl = p.ctrl.map(([t, q]) => ({t, q}));
  const rain = p.rain.map(([t, r]) => ({t, top: p.qMax, y: toQ(r)}));
  const svg = Plot.plot({
    width: 342, height: 210,
    marginLeft: p.mL, marginRight: p.mR, marginTop: p.mT, marginBottom: p.mB,
    style: {fontFamily: FONT, fontSize: "9.5px", color: TXT, background: "transparent", overflow: "visible"},
    x: {domain: [0, 3000]},
    y: {domain: [0, p.qMax]},
    marks: [
      Plot.gridX(xTicks, {stroke: GRID, strokeOpacity: 1}),
      Plot.gridY(p.qTicks, {stroke: GRID, strokeOpacity: 1}),
      Plot.areaY(rain, {x: "t", y1: "top", y2: "y", curve: "step-after", fill: BLUE, fillOpacity: 0.95}),
      Plot.line(unc, {x: "t", y: "q", stroke: BLUE, strokeWidth: 3.6}),
      Plot.line(ctrl, {x: "t", y: "q", stroke: RED, strokeWidth: 1.1}),
      Plot.frame({stroke: AX}),
      Plot.axisX({ticks: xTicks, tickFormat: xFmt, tickSize: 0, tickPadding: p.tp, label: null, fill: TXT}),
      Plot.axisY({anchor: "left", ticks: p.qTicks, tickSize: 0, tickPadding: 5, label: null, fill: TXT}),
      Plot.axisY({anchor: "right", ticks: p.rTicks.map(toQ), tickFormat: d => rLab.get(d), tickSize: 0, tickPadding: 5, label: null, fill: TXT}),
      Plot.text(["Time (min)"], {text: d => d, frameAnchor: "bottom", dy: p.tdy, fontWeight: "bold", fontSize: 9.5, fill: TXT}),
      Plot.text(["Q (m³/s)"], {text: d => d, frameAnchor: "left", dx: p.qdx, rotate: -90, textAnchor: "middle", fontWeight: "bold", fontSize: 9.5, fill: TXT}),
      Plot.text(["Rainfall (mm)"], {text: d => d, frameAnchor: "right", dx: p.rdx, rotate: -90, textAnchor: "middle", fontWeight: "bold", fontSize: 9.5, fill: TXT})
    ]
  });
  const div = document.createElement("div");
  div.className = "panel";
  div.style.left = p.left + "px";
  div.style.top = p.top + "px";
  div.appendChild(svg);
  wrap.appendChild(div);

  const tag = document.createElement("div");
  tag.className = "tag";
  tag.style.left = (p.left + (p.left ? 4 : 0)) + "px";
  tag.style.top = p.top + "px";
  tag.textContent = p.tag;
  wrap.appendChild(tag);

  const leg = document.createElement("div");
  leg.className = "legend";
  leg.style.left = p.leg[0] + "px";
  leg.style.top = p.leg[1] + "px";
  leg.innerHTML = '<div class="row"><span class="sw blue"></span>Uncontrolled Hyd.</div><div class="row"><span class="sw red"></span>Controlled Hyd.</div>';
  wrap.appendChild(leg);
}
</script></body></html>
